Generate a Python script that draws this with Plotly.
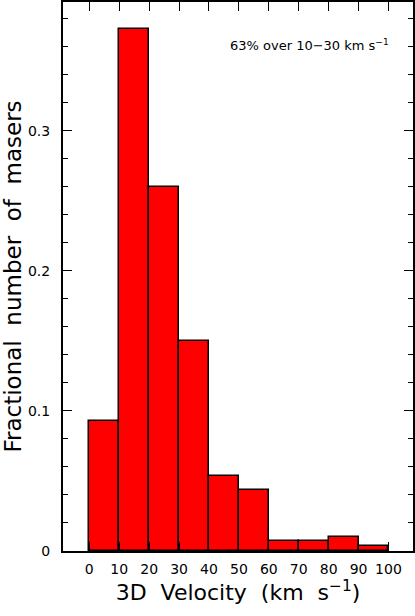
import plotly.graph_objects as go

# histogram of 3D maser velocities (fraction per 10 km/s bin)
bin_edges = [0, 10, 20, 30, 40, 50, 60, 70, 80, 90, 100]
fractions = [0.093, 0.373, 0.260, 0.150, 0.0535, 0.0435, 0.0069, 0.0069, 0.0103, 0.0034]
x_ticks = [0, 10, 20, 30, 40, 50, 60, 70, 80, 90, 100]
y_ticks = [0, 0.1, 0.2, 0.3]
y_tick_text = ["0", "0.1", "0.2", "0.3"]

centers = [(a + b) / 2 for a, b in zip(bin_edges[:-1], bin_edges[1:])]
widths = [b - a for a, b in zip(bin_edges[:-1], bin_edges[1:])]

FONT = "DejaVu Sans"
GAP = " \u00a0"  # wide word gaps like the original plotting font

fig = go.Figure(go.Bar(
    x=centers, y=fractions, width=widths,
    marker=dict(color="#ff0000", line=dict(color="black", width=1.5)),
))

fig.update_layout(
    width=415, height=616,
    margin=dict(l=63, r=2, t=2, b=65),
    plot_bgcolor="white", paper_bgcolor="white",
    showlegend=False,
    font=dict(family=FONT, color="black", size=14),
    bargap=0,
)

fig.update_xaxes(
    range=[-8.8, 108.2], automargin=False,
    tickvals=x_ticks, ticks="inside", ticklen=9, tickwidth=1.3, tickcolor="black",
    showline=True, linecolor="black", linewidth=2, mirror="ticks",
    showgrid=False, zeroline=False,
    tickfont=dict(size=14), ticklabelstandoff=4,
    title=dict(text=GAP.join(["3D", "Velocity", "(km", "s<sup>−1</sup>)"]),
               font=dict(size=22), standoff=6),
)
fig.update_yaxes(
    range=[0, 0.392], automargin=False,
    tickvals=y_ticks, ticktext=y_tick_text,
    ticks="inside", ticklen=9, tickwidth=1.3, tickcolor="black",
    minor=dict(dtick=0.02, ticks="inside", ticklen=5, tickwidth=1.3, tickcolor="black"),
    showline=True, linecolor="black", linewidth=2, mirror="ticks",
    showgrid=False, zeroline=False,
    tickfont=dict(size=14), ticklabelstandoff=8,
    title=dict(text=GAP.join(["Fractional", "number", "of", "masers"]),
               font=dict(size=23), standoff=4),
)

fig.add_annotation(
    x=73.6, y=0.361, xref="x", yref="y",
    text="63% over 10−30 km s<sup>−1</sup>",
    showarrow=False, font=dict(size=13),
)

# drop the browser's default body margin so the figure sits at the page corner
fig.write_html("out.html", config={"displayModeBar": False},
               post_script="document.body.style.margin='0';")
